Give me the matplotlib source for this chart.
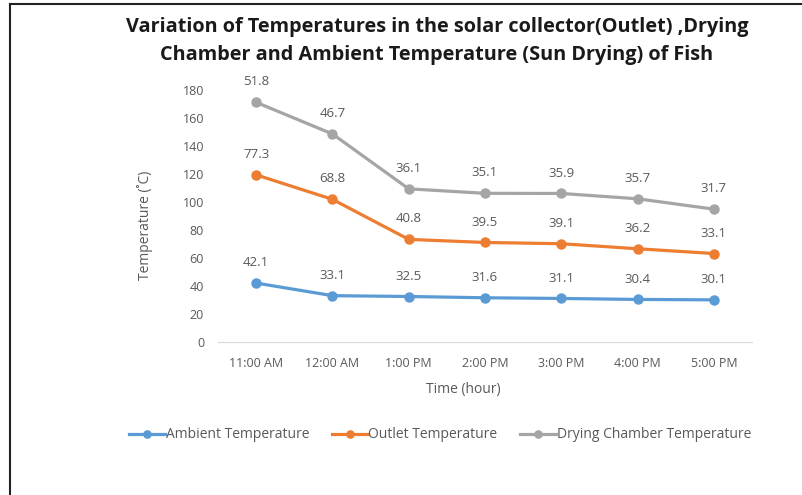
import matplotlib.pyplot as plt
from matplotlib.lines import Line2D
import numpy as np

plt.rcParams['font.family'] = ['Open Sans', 'DejaVu Sans']

times = ['11:00 AM', '12:00 AM', '1:00 PM', '2:00 PM', '3:00 PM', '4:00 PM', '5:00 PM']
ambient = [42.1, 33.1, 32.5, 31.6, 31.1, 30.4, 30.1]
outlet = [77.3, 68.8, 40.8, 39.5, 39.1, 36.2, 33.1]
drying = [51.8, 46.7, 36.1, 35.1, 35.9, 35.7, 31.7]

names = ['Ambient Temperature', 'Outlet Temperature', 'Drying Chamber Temperature']
colors = ['#5B9BD5', '#ED7D31', '#A5A5A5']
txt = '#595959'

W, H = 803, 495
fig = plt.figure(figsize=(W / 100, H / 100), dpi=100)
ax = fig.add_axes([218 / W, 1 - 342 / H, (752 - 218) / W, (342 - 90) / H])

x = np.arange(len(times))
# Excel stacked line chart: each series sits on top of the previous
base = np.zeros(len(times))
handles = []
for vals, name, c in zip([ambient, outlet, drying], names, colors):
    top = base + np.array(vals)
    h, = ax.plot(x, top, color=c, lw=2.3, marker='o', ms=6.5, label=name)
    handles.append(h)
    for xi, yi, v in zip(x, top, vals):
        ax.annotate(f'{v:.1f}', (xi, yi), xytext=(0, 10), textcoords='offset points',
                    ha='center', va='bottom', fontsize=9.5, color=txt)
    base = top

ax.set_xlim(-0.5, len(times) - 0.5)
ax.set_ylim(0, 180)
ax.set_yticks(range(0, 181, 20))
ax.set_xticks(x)
ax.set_xticklabels(times)
ax.tick_params(axis='both', length=0, labelsize=9, colors=txt)
ax.tick_params(axis='y', pad=10)
ax.tick_params(axis='x', pad=11)
for s in ['top', 'right', 'left']:
    ax.spines[s].set_visible(False)
ax.spines['bottom'].set_color('#D9D9D9')

fig.text(437 / W, 1 - 27 / H, 'Variation of Temperatures in the solar collector(Outlet) ,Drying',
         ha='center', va='center', fontsize=14.3, fontweight='bold', color='#1a1a1a')
fig.text(437 / W, 1 - 55 / H, 'Chamber and Ambient Temperature (Sun Drying) of Fish',
         ha='center', va='center', fontsize=14.3, fontweight='bold', color='#1a1a1a')
fig.text(463 / W, 1 - 390 / H, 'Time (hour)', ha='center', va='center', fontsize=10, color=txt)
fig.text(145 / W, 1 - 225 / H, 'Temperature (˚C)', ha='center', va='center',
         rotation=90, fontsize=10, color=txt)

fig.legend(handles=handles, loc='center', bbox_to_anchor=(440 / W, 1 - 435 / H), ncol=3,
           frameon=False, fontsize=10, labelcolor=txt, handlelength=2.6, handletextpad=0.05,
           columnspacing=1.6, markerscale=0.8)

fig.add_artist(Line2D([10 / W, 1], [1 - 4 / H, 1 - 4 / H], color='#222222', lw=1.5))
fig.add_artist(Line2D([10 / W, 10 / W], [0, 1 - 4 / H], color='#222222', lw=1.5))

fig.savefig('out.png', dpi=100)
